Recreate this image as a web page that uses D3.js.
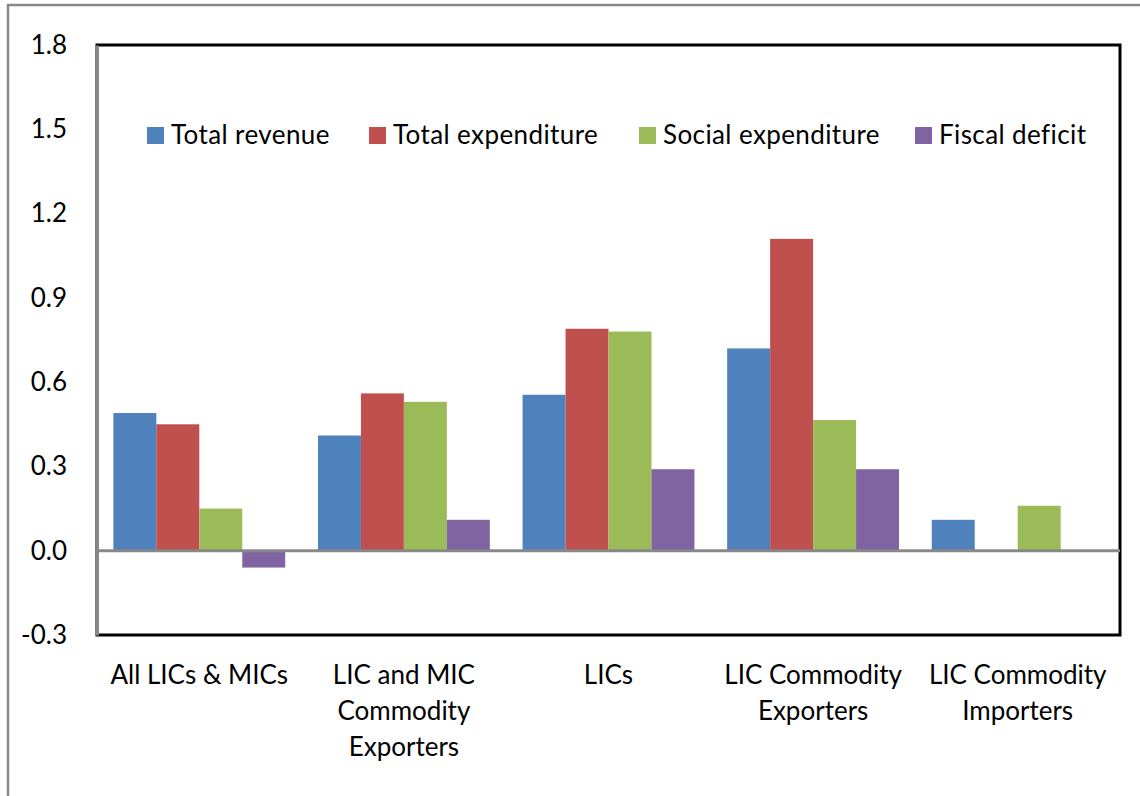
<!DOCTYPE html>
<html>
<head>
<meta charset="utf-8">
<script src="https://cdn.jsdelivr.net/npm/d3@7"></script>
<style>
    body { margin: 0; background: #fff; }
    text { font-family: Lato, 'Open Sans', sans-serif; fill: #000; }
</style>
</head>
<body>
<div id="chart"></div>
<script>
// chart data
const categories = ['All LICs & MICs', 'LIC and MIC Commodity Exporters', 'LICs', 'LIC Commodity Exporters', 'LIC Commodity Importers'];
const seriesNames = ['Total revenue', 'Total expenditure', 'Social expenditure', 'Fiscal deficit'];
const totalRevenue = [0.49, 0.41, 0.555, 0.72, 0.11];
const totalExpenditure = [0.45, 0.56, 0.79, 1.11, 0];
const socialExpenditure = [0.15, 0.53, 0.78, 0.465, 0.16];
const fiscalDeficit = [-0.06, 0.11, 0.29, 0.29, 0];
const yTicks = [-0.3, 0.0, 0.3, 0.6, 0.9, 1.2, 1.5, 1.8];

const colors = ['#4F81BD', '#C0504D', '#9BBB59', '#8064A2'];
const seriesValues = [totalRevenue, totalExpenditure, socialExpenditure, fiscalDeficit];

const W = 1140, H = 796;
const margin = { top: 45, right: 20, bottom: 161, left: 97 };
const width = W - margin.left - margin.right;
const height = H - margin.top - margin.bottom;

const svg = d3.select('#chart').append('svg')
    .attr('width', W)
    .attr('height', H);

// outer chart frame (partly cut off on the right and bottom)
svg.append('rect')
    .attr('x', 8).attr('y', 5)
    .attr('width', W + 20).attr('height', H + 20)
    .attr('fill', 'none')
    .attr('stroke', '#888')
    .attr('stroke-width', 2.5);

const g = svg.append('g')
    .attr('transform', 'translate(' + margin.left + ',' + margin.top + ')');

const x0 = d3.scaleBand().domain(d3.range(categories.length)).range([0, width]).paddingInner(0.16).paddingOuter(0.08);
const x1 = d3.scaleBand().domain(d3.range(seriesNames.length)).range([0, x0.bandwidth()]);
const y = d3.scaleLinear().domain([-0.3, 1.8]).range([height, 0]);

// plot area border
g.append('rect')
    .attr('x', 0).attr('y', 0)
    .attr('width', width).attr('height', height)
    .attr('fill', 'none')
    .attr('stroke', '#000')
    .attr('stroke-width', 3);

// bars
const rows = categories.map(function (c, i) {
    return seriesValues.map(function (s, j) {
        return { cat: i, series: j, value: s[i] };
    });
});

const groups = g.selectAll('.group').data(rows).enter().append('g')
    .attr('class', 'group')
    .attr('transform', function (d, i) { return 'translate(' + x0(i) + ',0)'; });

groups.selectAll('rect').data(function (d) { return d.filter(function (b) { return b.value !== 0; }); })
    .enter().append('rect')
    .attr('x', function (d) { return x1(d.series); })
    .attr('width', x1.bandwidth())
    .attr('y', function (d) { return y(Math.max(0, d.value)); })
    .attr('height', function (d) { return Math.abs(y(d.value) - y(0)); })
    .attr('fill', function (d) { return colors[d.series]; });

// zero line
g.append('line')
    .attr('x1', 0).attr('x2', width)
    .attr('y1', y(0)).attr('y2', y(0))
    .attr('stroke', '#888')
    .attr('stroke-width', 3);

// y axis
const yAxis = d3.axisLeft(y).tickValues(yTicks).tickSize(0).tickPadding(30)
    .tickFormat(function (d) { return d.toFixed(1); });
const ya = g.append('g').call(yAxis);
ya.select('.domain').attr('stroke', '#888').attr('stroke-width', 3);
ya.selectAll('text').style('font-family', 'Lato, sans-serif').style('font-size', '26px');

// category labels
const lineHeight = 36;
categories.forEach(function (c, i) {
    const t = g.append('text')
        .attr('text-anchor', 'middle')
        .attr('x', x0(i) + x0.bandwidth() / 2)
        .attr('y', height + 49)
        .style('font-size', '26px');
    const words = c.split(' ');
    let line = [];
    let tspan = t.append('tspan').attr('x', x0(i) + x0.bandwidth() / 2).attr('dy', 0);
    words.forEach(function (w) {
        line.push(w);
        tspan.text(line.join(' '));
        if (tspan.node().getComputedTextLength() > 200 && line.length > 1) {
            line.pop();
            tspan.text(line.join(' '));
            line = [w];
            tspan = t.append('tspan').attr('x', x0(i) + x0.bandwidth() / 2).attr('dy', lineHeight).text(w);
        }
    });
});

// legend
const legendX = [147, 369, 639, 915];
const legend = svg.selectAll('.legend').data(seriesNames).enter().append('g')
    .attr('class', 'legend')
    .attr('transform', function (d, i) { return 'translate(' + legendX[i] + ',127)'; });
legend.append('rect')
    .attr('width', 17).attr('height', 17)
    .attr('fill', function (d, i) { return colors[i]; });
legend.append('text')
    .attr('x', 24).attr('y', 17)
    .style('font-size', '26px')
    .style('letter-spacing', '0.4px')
    .text(function (d) { return d; });
</script>
</body>
</html>
